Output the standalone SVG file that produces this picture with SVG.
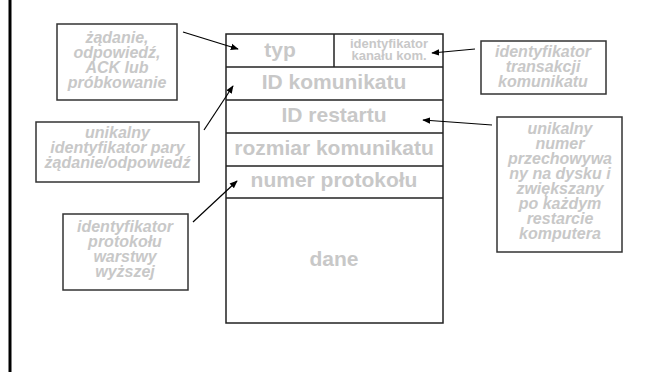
<svg xmlns="http://www.w3.org/2000/svg" width="653" height="372" viewBox="0 0 653 372">
<defs>
<marker id="ah" viewBox="0 0 10 10" refX="9" refY="5" markerWidth="8" markerHeight="8" markerUnits="userSpaceOnUse" orient="auto">
<path d="M0,1 L10,5 L0,9 z" fill="#000"/>
</marker>
<style>
.fld{fill:#c8c8c8;font-family:"Liberation Sans",Arial,sans-serif;font-weight:bold;font-size:21px;text-anchor:middle}
.sm{font-size:13px}
.note{fill:#c8c8c8;font-family:"Liberation Sans",Arial,sans-serif;font-weight:bold;font-style:italic;font-size:16px;text-anchor:middle}
.box{fill:#fff;stroke:#333;stroke-width:1.5}
.cell{fill:none;stroke:#222;stroke-width:1.5}
.conn{stroke:#000;stroke-width:1.2;fill:none;marker-end:url(#ah)}
</style>
</defs>
<rect width="653" height="372" fill="#fff"/>
<line x1="10" y1="0" x2="10" y2="372" stroke="#000" stroke-width="3"/>
<g id="message">
<rect class="cell" x="226" y="34" width="217" height="289"/>
<line class="cell" x1="334" y1="34" x2="334" y2="67"/>
<line class="cell" x1="226" y1="67" x2="443" y2="67"/>
<line class="cell" x1="226" y1="100" x2="443" y2="100"/>
<line class="cell" x1="226" y1="133" x2="443" y2="133"/>
<line class="cell" x1="226" y1="166" x2="443" y2="166"/>
<line class="cell" x1="226" y1="198" x2="443" y2="198"/>
<text class="fld" x="280" y="57">typ</text>
<text class="fld sm" x="389" y="48">identyfikator</text>
<text class="fld sm" x="389" y="60">kanału kom.</text>
<text class="fld" x="334" y="89">ID komunikatu</text>
<text class="fld" x="334" y="122">ID restartu</text>
<text class="fld" x="334" y="155">rozmiar komunikatu</text>
<text class="fld" x="334" y="187">numer protokołu</text>
<text class="fld" x="334" y="266">dane</text>
</g>
<g id="note-typ">
<rect class="box" x="57" y="24" width="120" height="76"/>
<text class="note" x="117" y="43">żądanie,</text>
<text class="note" x="117" y="58">odpowiedź,</text>
<text class="note" x="117" y="73">ACK lub</text>
<text class="note" x="117" y="88">próbkowanie</text>
</g>
<g id="note-idkom">
<rect class="box" x="36" y="122" width="163" height="60"/>
<text class="note" x="117.5" y="138">unikalny</text>
<text class="note" x="117.5" y="153">identyfikator pary</text>
<text class="note" x="117.5" y="168">żądanie/odpowiedź</text>
</g>
<g id="note-proto">
<rect class="box" x="63" y="214" width="125" height="76"/>
<text class="note" x="125" y="232">identyfikator</text>
<text class="note" x="125" y="247">protokołu</text>
<text class="note" x="125" y="262">warstwy</text>
<text class="note" x="125" y="277">wyższej</text>
</g>
<g id="note-trans">
<rect class="box" x="481" y="41" width="125" height="53"/>
<text class="note" x="543" y="57">identyfikator</text>
<text class="note" x="543" y="72">transakcji</text>
<text class="note" x="543" y="87">komunikatu</text>
</g>
<g id="note-restart">
<rect class="box" x="497" y="117" width="125" height="135"/>
<text class="note" x="560" y="134">unikalny</text>
<text class="note" x="560" y="149">numer</text>
<text class="note" x="560" y="164">przechowywa</text>
<text class="note" x="560" y="179">ny na dysku i</text>
<text class="note" x="560" y="194">zwiększany</text>
<text class="note" x="560" y="209">po każdym</text>
<text class="note" x="560" y="224">restarcie</text>
<text class="note" x="560" y="239">komputera</text>
</g>
<g id="connectors">
<line class="conn" x1="183" y1="32" x2="238" y2="49"/>
<line class="conn" x1="204" y1="130" x2="233" y2="86"/>
<line class="conn" x1="475" y1="49" x2="432" y2="53"/>
<line class="conn" x1="492" y1="125" x2="423" y2="120"/>
<line class="conn" x1="193" y1="222" x2="237" y2="181"/>
</g>
</svg>
